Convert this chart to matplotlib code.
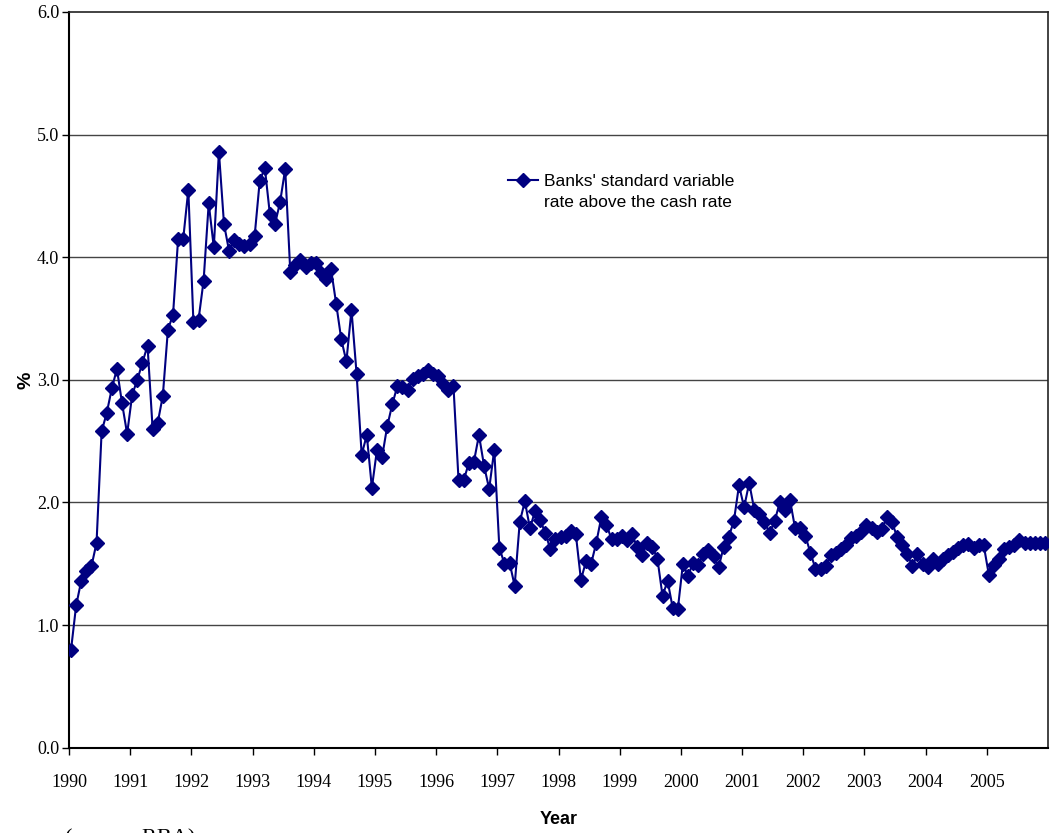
import matplotlib
matplotlib.use('Agg')
import matplotlib.pyplot as plt
import numpy as np
from matplotlib.lines import Line2D

# Monthly spread of the banks' standard variable rate over the cash rate (%)
r1990 = [0.80, 1.16, 1.36, 1.44, 1.48, 1.67, 2.58, 2.73, 2.93, 3.09, 2.81, 2.56]
r1991 = [2.88, 3.00, 3.14, 3.28, 2.60, 2.65, 2.87, 3.41, 3.53, 4.15, 4.15, 4.55]
r1992 = [3.47, 3.49, 3.81, 4.44, 4.08, 4.86, 4.27, 4.05, 4.14, 4.11, 4.09, 4.11]
r1993 = [4.17, 4.62, 4.73, 4.35, 4.27, 4.45, 4.72, 3.88, 3.94, 3.98, 3.92, 3.95]
r1994 = [3.95, 3.87, 3.82, 3.90, 3.62, 3.33, 3.15, 3.57, 3.05, 2.39, 2.55, 2.12]
r1995 = [2.43, 2.37, 2.62, 2.80, 2.95, 2.94, 2.92, 3.01, 3.03, 3.05, 3.08, 3.05]
r1996 = [3.03, 2.97, 2.92, 2.95, 2.18, 2.18, 2.32, 2.33, 2.55, 2.30, 2.11, 2.43]
r1997 = [1.63, 1.50, 1.51, 1.32, 1.84, 2.01, 1.79, 1.93, 1.86, 1.75, 1.62, 1.70]
r1998 = [1.72, 1.73, 1.77, 1.74, 1.37, 1.52, 1.50, 1.67, 1.88, 1.82, 1.70, 1.70]
r1999 = [1.73, 1.69, 1.74, 1.64, 1.57, 1.67, 1.64, 1.54, 1.24, 1.36, 1.14, 1.13]
r2000 = [1.50, 1.40, 1.51, 1.49, 1.58, 1.61, 1.56, 1.47, 1.64, 1.72, 1.85, 2.14]
r2001 = [1.96, 2.16, 1.94, 1.91, 1.84, 1.75, 1.85, 2.00, 1.94, 2.02, 1.79, 1.79]
r2002 = [1.73, 1.59, 1.46, 1.46, 1.48, 1.57, 1.59, 1.62, 1.65, 1.71, 1.73, 1.76]
r2003 = [1.82, 1.79, 1.76, 1.78, 1.88, 1.84, 1.72, 1.65, 1.58, 1.48, 1.58, 1.50]
r2004 = [1.47, 1.54, 1.50, 1.54, 1.57, 1.60, 1.63, 1.65, 1.66, 1.63, 1.65, 1.65]
r2005 = [1.41, 1.49, 1.54, 1.62, 1.64, 1.65, 1.69, 1.67, 1.67, 1.67, 1.67, 1.67]

year_ticks = list(range(1990, 2006))
y_ticks = [0, 1, 2, 3, 4, 5, 6]

spread = np.array(r1990 + r1991 + r1992 + r1993 + r1994 + r1995 + r1996 + r1997
                  + r1998 + r1999 + r2000 + r2001 + r2002 + r2003 + r2004 + r2005)
t = 1990 + (np.arange(len(spread)) + 0.4) / 12

navy = '#000080'
W, H = 1057, 833
fig = plt.figure(figsize=(W / 100, H / 100), dpi=100)
ax = fig.add_axes([69 / W, (H - 747.7) / H, (1048 - 69) / W, (747.7 - 12) / H])

ax.plot(t, spread, color=navy, lw=1.5, marker='D', ms=7,
        markerfacecolor=navy, markeredgecolor=navy, zorder=3)

ax.set_xlim(1990, 2006)
ax.set_ylim(0, 6)
ax.set_xticks(year_ticks)
ax.set_xticklabels([str(y) for y in year_ticks], family='Liberation Serif', fontsize=13)
ax.set_yticks(y_ticks)
ax.set_yticklabels(['%.1f' % v for v in y_ticks], family='Liberation Serif', fontsize=13)
ax.tick_params(axis='x', direction='out', length=5, width=1, pad=14, color='black')
ax.tick_params(axis='y', direction='out', length=5, width=1, pad=2, color='black')

for v in y_ticks[1:-1]:
    ax.axhline(v, color='#444444', lw=1, zorder=1)

for side in ['left', 'bottom']:
    ax.spines[side].set_color('black')
    ax.spines[side].set_linewidth(1.5)
for side in ['top', 'right']:
    ax.spines[side].set_color('#222222')
    ax.spines[side].set_linewidth(1.2)

ax.set_xlabel('Year', family='Liberation Sans', fontweight='bold', fontsize=13, labelpad=14)
ax.set_ylabel('%', family='Liberation Sans', fontweight='bold', fontsize=14, labelpad=2)

handles = [Line2D([], [], color=navy, lw=1.5, marker='D', ms=7),
           Line2D([], [], lw=0)]
labels = ["Banks' standard variable", "rate above the cash rate"]
ax.legend(handles, labels, loc='upper left', bbox_to_anchor=(508 / W, (H - 174) / H),
          bbox_transform=fig.transFigure, frameon=False, borderpad=0, borderaxespad=0,
          handlelength=1.75, handletextpad=0.3, labelspacing=0.35,
          prop={'family': 'Liberation Sans', 'size': 12.5})

# source note sits at the very bottom edge of the figure
fig.text(65 / W, (H - 843) / H, '(source: RBA)', family='Liberation Serif',
         fontsize=16, va='baseline', ha='left')

fig.savefig('out.png', dpi=100)
